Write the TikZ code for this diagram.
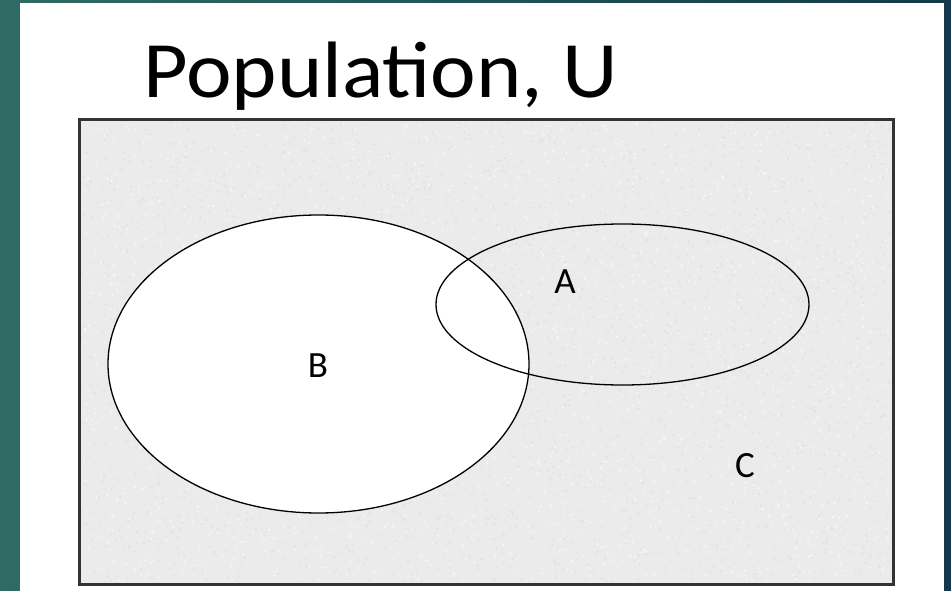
\documentclass[tikz,border=0pt]{standalone}
\usepackage{fontspec}
\setmainfont{Carlito}
\newfontfamily\titlefont[FakeStretch=1.08]{Carlito}
\usetikzlibrary{shapes.geometric,positioning}
\definecolor{tealleft}{HTML}{2F6C64}
\definecolor{tealright}{HTML}{123A4A}
\definecolor{speckle}{HTML}{EBEBEB}
\definecolor{boxline}{HTML}{333333}
\tikzset{
  unibox/.style={
    rectangle, draw=boxline, line width=1.8pt, fill=speckle,
    minimum width=813pt, minimum height=464pt, inner sep=0pt
  },
  setshape/.style={
    ellipse, draw=black, line width=1.3pt, inner sep=0pt
  },
  setlabel/.style={
    font=\fontsize{37}{37}\selectfont, inner sep=0pt
  },
  titletext/.style={
    font=\titlefont\fontsize{80}{80}\selectfont, inner sep=0pt, anchor=base west
  },
}

\begin{document}
\begin{tikzpicture}[x=1pt, y=-1pt]
  \useasboundingbox (0,0) rectangle (951,591);
  % slide background
  \shade[left color=tealleft, right color=tealright] (0,0) rectangle (951,591);
  \fill[white] (20,3) rectangle (944,591);
  \node[titletext] (title) at (143,98) {Population, U};
  % universe with texture
  \node[unibox] (universe) at (486.5,352) {};
  \pgfmathsetseed{17}
  \foreach \i in {1,...,2600} {
    \fill[gray!22] (83+rnd*807, 123+rnd*458) circle (1.3pt);
  }
  \foreach \i in {1,...,1800} {
    \fill[white!60!speckle] (83+rnd*807, 123+rnd*458) circle (1.2pt);
  }
  \draw[boxline, line width=1.8pt] (universe.north west) rectangle (universe.south east);
  % sets
  \node[setshape, fill=white, minimum width=421pt, minimum height=298pt] (setB) at (318.5,364) {};
  \node[setshape, minimum width=373pt, minimum height=161pt] (setA) at (622.5,304.5) {};
  \node[setlabel] (labA) at (565,282) {A};
  \node[setlabel] (labB) at (318,366) {B};
  \node[setlabel] (labC) at (745,466) {C};
\end{tikzpicture}
\end{document}
